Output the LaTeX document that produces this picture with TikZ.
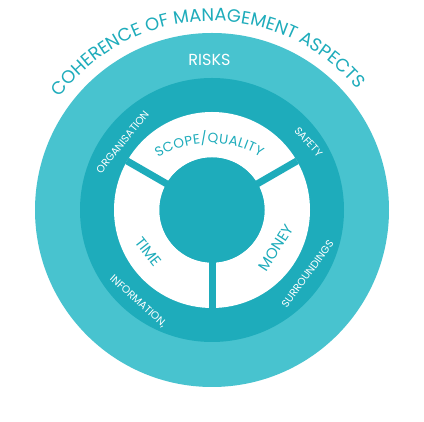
\documentclass[tikz,border=0pt]{standalone}
\usepackage{fontspec}
\setmainfont{Poppins}
\usetikzlibrary{decorations.text}
\definecolor{ringlight}{RGB}{72,195,207}
\definecolor{ringdark}{RGB}{30,172,187}
\begin{document}
\begin{tikzpicture}[x=1pt,y=1pt,
  disc/.style={circle, inner sep=0pt, draw=none},
  spoke/.style={draw=ringdark, line width=7pt},
  lbl/.style={font=\fontsize{10.5}{11}\selectfont, text=white, inner sep=0pt, text depth=0pt},
  seg/.style={font=\fontsize{15}{16}\selectfont, text=ringdark, inner sep=0pt, text depth=0pt}]
\fill[white] (0,0) rectangle (424,422);
\useasboundingbox (0,0) rectangle (424,422);
\coordinate (c) at (212,212);
\node[disc, fill=ringlight, minimum size=354pt] (outer) at (c) {};
\node[disc, fill=ringdark, minimum size=264pt] (mid) at (c) {};
\node[disc, fill=white, minimum size=196pt] (ring) at (c) {};
\node[disc, fill=ringdark, minimum size=105pt] (hub) at (c) {};
\draw[spoke] (hub.center) -- (ring.270);
\draw[spoke] (hub.center) -- (ring.30);
\draw[spoke] (hub.center) -- (ring.150);
\node[disc, fill=ringdark, minimum size=105pt] (hub2) at (c) {};
% title
\path[decorate, decoration={text along path, text align={fit to path},
  text color=ringdark,
  text={|\fontsize{18}{18}\selectfont|COHERENCE OF MANAGEMENT ASPECTS}}]
  ([shift={(143.5:189)}]c) arc[start angle=143.5, end angle=40.5, radius=189];
% scope/quality
\coordinate (sq) at (210,181);
\path[decorate, decoration={text along path, text align={fit to path},
  text color=ringdark,
  text={|\fontsize{13.5}{14}\selectfont|SCOPE/QUALITY}}]
  ([shift={(122:98)}]sq) arc[start angle=122, end angle=59, radius=98];
\node[font=\fontsize{16}{17}\selectfont, text=white, inner sep=0pt, text depth=0pt] (risks) at (209.5,362) {RISKS};
\node[seg, rotate=-52] (time) at (148.5,170) {TIME};
\node[seg, rotate=57] (money) at (276,174) {MONEY};
\node[lbl, rotate=51] (org) at (122.5,280) {ORGANISATION};
\node[lbl, rotate=-48] (safety) at (308.5,280) {SAFETY};
\node[lbl, rotate=-42] (info) at (138.5,121) {INFORMATION,};
\node[lbl, rotate=54] (surr) at (307.5,148) {SURROUNDINGS};
\end{tikzpicture}
\end{document}
